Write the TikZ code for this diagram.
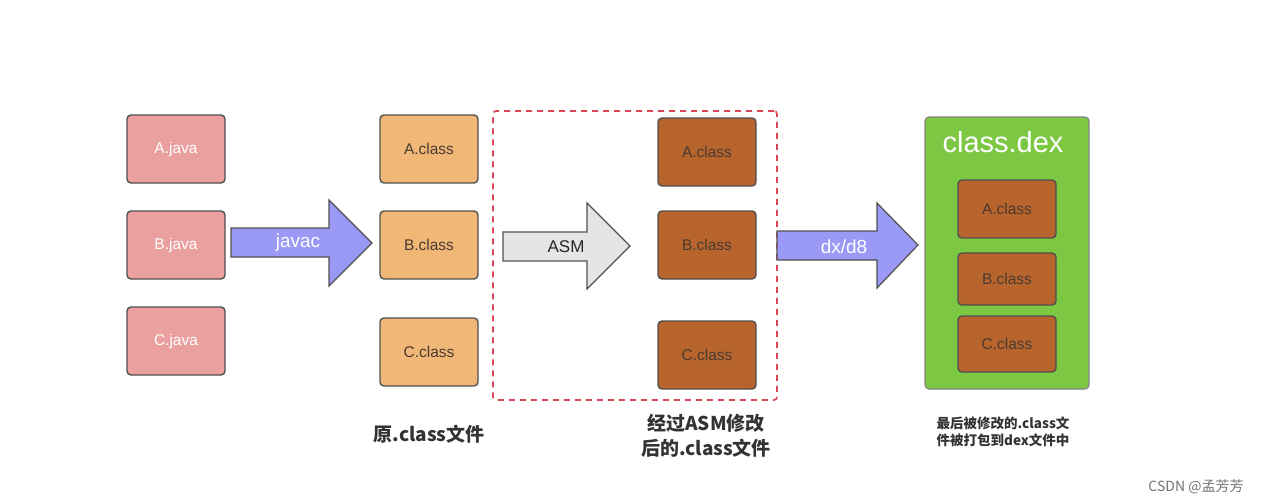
\documentclass[tikz,border=0pt]{standalone}
\usepackage{fontspec}
\setmainfont{Liberation Sans}
\setsansfont{Liberation Sans}
\newfontfamily\cjk{Noto Sans CJK SC}
\definecolor{javafill}{HTML}{EBA0A0}
\definecolor{classfill}{HTML}{F0B776}
\definecolor{modfill}{HTML}{B8652D}
\definecolor{dexfill}{HTML}{7DC843}
\definecolor{arrowblue}{HTML}{9A9AF6}
\definecolor{arrowgray}{HTML}{E5E5E5}
\definecolor{edge}{HTML}{505050}
\definecolor{dashred}{HTML}{DC4656}
\definecolor{txtdark}{HTML}{4A3A30}
\tikzset{
  filebox/.style={draw=edge, line width=1.4pt, rounded corners=4pt, minimum width=98pt, minimum height=68pt, inner sep=0pt, font=\fontsize{15.5}{17}\selectfont},
  javabox/.style={filebox, fill=javafill, text=white},
  classbox/.style={filebox, fill=classfill, text=txtdark},
  modbox/.style={filebox, fill=modfill, text=txtdark},
  bigarrow/.style={draw=edge, line width=1.2pt, line join=miter},
  caption/.style={font=\cjk\bfseries\fontsize{19}{25}\selectfont, text=black!80, align=center},
}
\begin{document}
\begin{tikzpicture}[x=1pt,y=-1pt]
\useasboundingbox[fill=white] (0,0) rectangle (1261,503);
% java files
\node[javabox] (aj) at (176,149) {A.java};
\node[javabox] (bj) at (176,245) {B.java};
\node[javabox] (cj) at (176,341) {C.java};
% original class
\node[classbox] (ac) at (429,149) {A.class};
\node[classbox] (bc) at (429,245) {B.class};
\node[classbox] (cc) at (429,352) {C.class};
% modified class
\node[modbox] (am) at (707,152) {A.class};
\node[modbox] (bm) at (707,245) {B.class};
\node[modbox] (cm) at (707,355) {C.class};
% dashed frame
\node[draw=dashred, line width=1.6pt, dash pattern=on 6pt off 5pt, rounded corners=3pt, minimum width=284pt, minimum height=289pt, inner sep=0pt] (frame) at (635,255.5) {};
% dex container
\node[draw=edge!70, line width=1.2pt, fill=dexfill, rounded corners=4pt, minimum width=164pt, minimum height=272pt, inner sep=0pt] (dex) at (1007,253) {};
\node[text=white, font=\fontsize{29}{32}\selectfont] (dextitle) at (1003,142) {class.dex};
\node[modbox, minimum height=58pt] (ad) at (1007,209) {A.class};
\node[modbox, minimum height=52pt] (bd) at (1007,279) {B.class};
\node[modbox, minimum height=56pt] (cd) at (1007,344) {C.class};
% javac arrow
\draw[bigarrow, fill=arrowblue] (231,228) -- (329,228) -- (329,200) -- (372,243) -- (329,286) -- (329,257) -- (231,257) -- cycle;
\node[text=white, font=\fontsize{19}{20}\selectfont] (javac) at (298,243) {javac};
% ASM arrow
\draw[bigarrow, fill=arrowgray] (503,232) -- (587,232) -- (587,203) -- (630,246) -- (587,289) -- (587,261) -- (503,261) -- cycle;
\node[text=black!85, font=\fontsize{17}{18}\selectfont] (asm) at (566,247) {ASM};
% dx/d8 arrow
\draw[bigarrow, fill=arrowblue] (777,231) -- (877,231) -- (877,203) -- (918,245) -- (877,288) -- (877,260) -- (777,260) -- cycle;
\node[text=white, font=\fontsize{19}{20}\selectfont] (dx) at (844,247) {dx/d8};
% captions
\node[caption] (cap1) at (429,434) {原.class文件};
\node[caption] (cap2) at (706,436) {经过ASM修改\\后的.class文件};
\node[caption, font=\cjk\bfseries\fontsize{13.5}{17}\selectfont] (cap3) at (1003,432) {最后被修改的.class文\\件被打包到dex文件中};
\node[text=black!55, font=\cjk\fontsize{14}{16}\selectfont] (wm) at (1196,487) {CSDN @孟芳芳};
\end{tikzpicture}
\end{document}
